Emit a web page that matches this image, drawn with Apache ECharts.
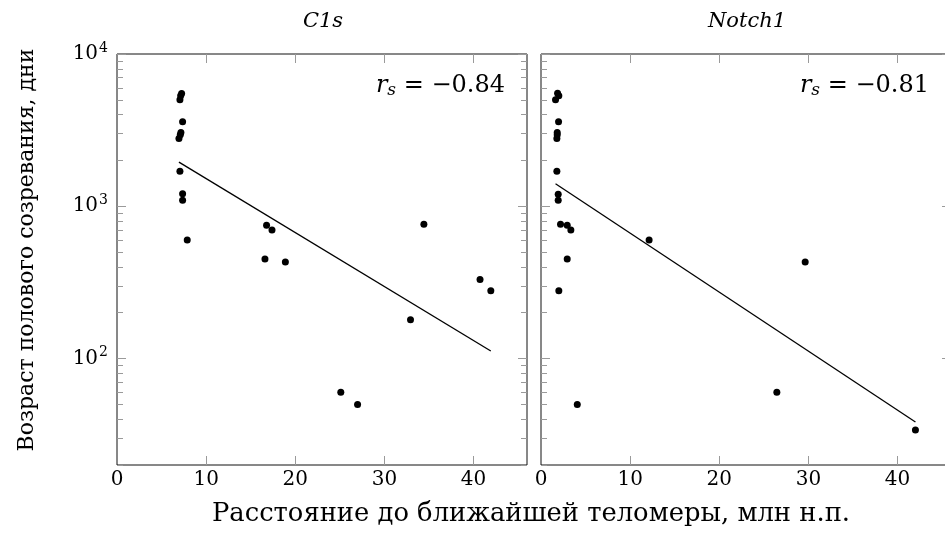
<!DOCTYPE html>
<html>
<head>
<meta charset="utf-8">
<script src="https://cdn.jsdelivr.net/npm/echarts@6/dist/echarts.min.js"></script>
<style>
  html, body { margin: 0; padding: 0; background: #fff; }
  #chart { width: 945px; height: 553px; }
</style>
</head>
<body>
<div id="chart"></div>
<script>
// C1s: distance to nearest telomere (Mb) vs age at sexual maturity (days)
var c1sDist = [7.25, 7.14, 7.06, 7.36, 7.17, 7.10, 6.95, 7.06, 7.36, 7.36, 7.88,
               16.78, 17.39, 16.6, 18.89, 34.43, 40.73, 41.94, 32.93, 25.11, 26.99];
var c1sAge  = [5510, 5310, 5000, 3593, 3048, 2950, 2792, 1701, 1207, 1095, 600,
               750, 698, 450, 430, 761, 330, 279, 180, 60, 50];
var c1sFitDist = [6.95, 41.94];
var c1sFitAge  = [1950, 112];

// Notch1
var notchDist = [1.86, 2.0, 1.63, 1.97, 1.82, 1.82, 1.78, 1.78, 1.93, 1.93, 2.19,
                 2.94, 3.35, 2.94, 2.0, 4.07, 12.13, 29.64, 26.46, 42.01];
var notchAge  = [5530, 5310, 5000, 3593, 3048, 2950, 2792, 1701, 1200, 1095, 761,
                 750, 698, 450, 279, 50, 600, 430, 60, 34];
var notchFitDist = [1.63, 42.01];
var notchFitAge  = [1405, 38.3];

var panelTitles = ['C1s', 'Notch1'];
var rsValues = ['−0.84', '−0.81'];

var xTicks = [0, 10, 20, 30, 40];
var yMajor = [100, 1000, 10000];
var yMinor = [20, 30, 40, 50, 60, 70, 80, 90,
              200, 300, 400, 500, 600, 700, 800, 900,
              2000, 3000, 4000, 5000, 6000, 7000, 8000, 9000];

var FONT = 'DejaVu Serif';
var TICK = '#9a9a9a';

function pairs(xs, ys) {
  return xs.map(function (x, i) { return [x, ys[i]]; });
}

var grids = [
  { left: 117, top: 54, width: 410, height: 411 },
  { left: 541, top: 54, width: 410, height: 411 }   // runs past the right edge, as in the original
];

var xAxes = [], yAxes = [], series = [];
grids.forEach(function (g, gi) {
  g.show = true;
  g.borderColor = '#111';
  g.borderWidth = 1;
  g.containLabel = false;
  g.outerBoundsMode = 'none';
  // bottom axis with labels
  xAxes.push({
    type: 'value', gridIndex: gi, position: 'bottom', min: 0, max: 46,
    axisLine: { show: false }, splitLine: { show: false },
    axisTick: { inside: true, length: 9, lineStyle: { color: TICK }, customValues: xTicks.slice(1) },
    axisLabel: { customValues: xTicks, margin: 5, color: '#000', fontFamily: FONT, fontSize: 20 }
  });
  // mirrored top ticks
  xAxes.push({
    type: 'value', gridIndex: gi, position: 'top', min: 0, max: 46,
    axisLine: { show: false }, splitLine: { show: false },
    axisTick: { inside: true, length: 9, lineStyle: { color: TICK }, customValues: xTicks.slice(1) },
    axisLabel: { show: false }
  });
  ['left', 'right'].forEach(function (side) {
    yAxes.push({
      type: 'log', gridIndex: gi, position: side, min: 20, max: 10000, logBase: 10,
      axisLine: { show: false }, splitLine: { show: false },
      axisTick: { inside: true, length: 9, lineStyle: { color: TICK }, customValues: yMajor },
      axisLabel: {
        show: gi === 0 && side === 'left',
        customValues: yMajor, margin: 9, color: '#000',
        formatter: function (v) {
          return '{b|10}{s|' + Math.round(Math.log10(v)) + '}';
        },
        rich: {
          b: { fontFamily: FONT, fontSize: 20, color: '#000' },
          s: { fontFamily: FONT, fontSize: 14, color: '#000', padding: [0, 0, 12, 1] }
        }
      }
    });
    yAxes.push({
      type: 'log', gridIndex: gi, position: side, min: 20, max: 10000, logBase: 10,
      axisLine: { show: false }, splitLine: { show: false },
      axisTick: { inside: true, length: 6, lineStyle: { color: TICK }, customValues: yMinor },
      axisLabel: { show: false }
    });
  });
});

series.push({
  type: 'scatter', xAxisIndex: 0, yAxisIndex: 0, data: pairs(c1sDist, c1sAge),
  symbolSize: 7, itemStyle: { color: '#000', opacity: 1 }, z: 3
});
series.push({
  type: 'line', xAxisIndex: 0, yAxisIndex: 0, data: pairs(c1sFitDist, c1sFitAge),
  symbol: 'none', lineStyle: { color: '#000', width: 1.3 }, z: 2
});
series.push({
  type: 'scatter', xAxisIndex: 2, yAxisIndex: 4, data: pairs(notchDist, notchAge),
  symbolSize: 7, itemStyle: { color: '#000', opacity: 1 }, z: 3
});
series.push({
  type: 'line', xAxisIndex: 2, yAxisIndex: 4, data: pairs(notchFitDist, notchFitAge),
  symbol: 'none', lineStyle: { color: '#000', width: 1.3 }, z: 2
});

var rsRich = {
  r: { fontFamily: FONT, fontStyle: 'italic', fontSize: 24, color: '#000' },
  sub: { fontFamily: FONT, fontStyle: 'italic', fontSize: 17, color: '#000', padding: [10, 0, 0, 0] },
  n: { fontFamily: FONT, fontSize: 24, color: '#000' }
};

var graphics = [];
grids.forEach(function (g, gi) {
  graphics.push({
    type: 'text', x: g.left + g.width / 2 + 1, y: 22,
    style: { text: panelTitles[gi], fontFamily: FONT, fontStyle: 'italic', fontSize: 21,
             fill: '#000', align: 'center', verticalAlign: 'middle' }
  });
  graphics.push({
    type: 'text', x: gi === 0 ? 505 : 929, y: 86,
    style: { text: '{r|r}{sub|s}{n| = ' + rsValues[gi] + '}', rich: rsRich,
             align: 'right', verticalAlign: 'middle' }
  });
});
graphics.push({
  type: 'text', x: 531, y: 514,
  style: { text: 'Расстояние до ближайшей теломеры, млн н.п.', fontFamily: FONT, fontSize: 25.8,
           fill: '#000', align: 'center', verticalAlign: 'middle' }
});
graphics.push({
  type: 'text', x: 27, y: 250, rotation: Math.PI / 2,
  style: { text: 'Возраст полового созревания, дни', fontFamily: FONT, fontSize: 22,
           fill: '#000', align: 'center', verticalAlign: 'middle' }
});

var chart = echarts.init(document.getElementById('chart'));
chart.setOption({
  animation: false,
  backgroundColor: '#fff',
  grid: grids,
  xAxis: xAxes,
  yAxis: yAxes,
  series: series,
  graphic: graphics
});
</script>
</body>
</html>
